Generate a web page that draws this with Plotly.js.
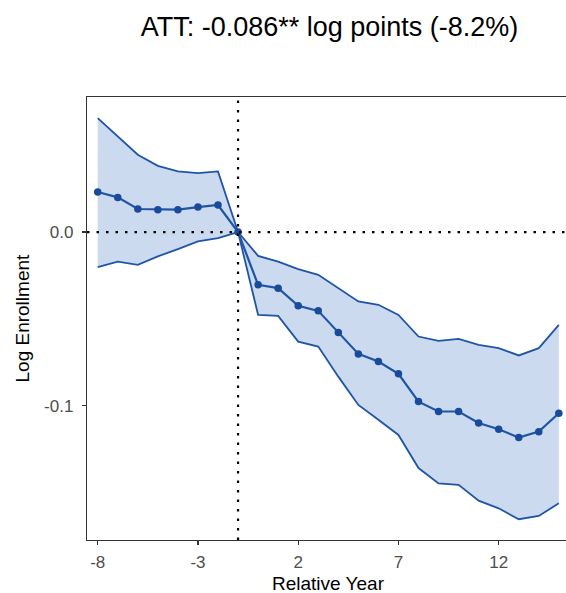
<!DOCTYPE html>
<html>
<head>
<meta charset="utf-8">
<script src="https://cdn.plot.ly/plotly-3.0.1.min.js"></script>
<style>
html, body { margin: 0; padding: 0; background: #ffffff; overflow: hidden; }
#chart { width: 566px; height: 593px; }
</style>
</head>
<body>
<div id="chart"></div>
<script>
// Relative years
const relYear = [-8, -7, -6, -5, -4, -3, -2, -1, 0, 1, 2, 3, 4, 5, 6, 7, 8, 9, 10, 11, 12, 13, 14, 15];
// Point estimates (log enrollment)
const estimate = [0.0231, 0.0200, 0.0133, 0.0129, 0.0129, 0.0144, 0.0156, 0.0,
  -0.0304, -0.0323, -0.0425, -0.0454, -0.0579, -0.0702, -0.0746, -0.0817,
  -0.0977, -0.1034, -0.1034, -0.1100, -0.1136, -0.1184, -0.1150, -0.1044];
// Upper confidence bound
const upperCI = [0.0657, 0.0550, 0.0446, 0.0382, 0.0350, 0.0340, 0.0350, 0.0,
  -0.0137, -0.0170, -0.0213, -0.0246, -0.0323, -0.0400, -0.0419, -0.0477,
  -0.0602, -0.0627, -0.0615, -0.0650, -0.0669, -0.0711, -0.0669, -0.0535];
// Lower confidence bound
const lowerCI = [-0.0202, -0.0170, -0.0189, -0.0140, -0.0098, -0.0054, -0.0035, 0.0,
  -0.0477, -0.0483, -0.0631, -0.0660, -0.0833, -0.0996, -0.1082, -0.1169,
  -0.1360, -0.1448, -0.1457, -0.1548, -0.1592, -0.1655, -0.1636, -0.1563];
// Tick labels
const xTicks = [-8, -3, 2, 7, 12];
const yTicks = [0.0, -0.1];
const yTickText = ["0.0", "-0.1"];
// Reference lines
const refYear = -1;
const refValue = 0;
const chartTitle = "ATT: -0.086** log points (-8.2%)";
const xTitle = "Relative Year";
const yTitle = "Log Enrollment";

const lineBlue = "#1f55a5";
const markerBlue = "#1a4b9b";
const fillBlue = "#cbdaee";
const font = "Liberation Sans, Arial, Helvetica, sans-serif";

const traces = [
  { x: relYear, y: lowerCI, type: "scatter", mode: "lines",
    line: { color: lineBlue, width: 1.8 }, hoverinfo: "skip", showlegend: false },
  { x: relYear, y: upperCI, type: "scatter", mode: "lines", fill: "tonexty",
    fillcolor: fillBlue, line: { color: lineBlue, width: 1.8 }, hoverinfo: "skip", showlegend: false },
  { x: relYear, y: estimate, type: "scatter", mode: "lines+markers",
    line: { color: lineBlue, width: 2.2 }, marker: { color: markerBlue, size: 7.5 }, showlegend: false }
];

const layout = {
  width: 566, height: 593,
  margin: { l: 87, r: 0, t: 97, b: 53 },
  paper_bgcolor: "#ffffff", plot_bgcolor: "#ffffff",
  font: { family: font, color: "#000000" },
  title: { text: chartTitle, font: { family: font, size: 27, color: "#000000" },
           xref: "container", x: 329.5 / 566, xanchor: "center",
           yref: "container", y: 1 - 27 / 593, yanchor: "middle" },
  xaxis: {
    range: [-8.534, 15.357], tickvals: xTicks, ticktext: xTicks.map(String),
    showgrid: false, zeroline: false, showline: true, mirror: true,
    linecolor: "#333333", linewidth: 1.2, ticks: "outside", ticklen: 4, tickwidth: 1.2, tickcolor: "#333333",
    tickfont: { family: font, size: 17, color: "#4d4d4d" }, ticklabelstandoff: 2
  },
  yaxis: {
    range: [-0.17745, 0.07785], tickvals: yTicks, ticktext: yTickText,
    showgrid: false, zeroline: false, showline: true,
    linecolor: "#333333", linewidth: 1.2, ticks: "outside", ticklen: 4, tickwidth: 1.2, tickcolor: "#333333",
    tickfont: { family: font, size: 17, color: "#4d4d4d" }, ticklabelstandoff: 5
  },
  annotations: [
    { text: xTitle, xref: "paper", yref: "paper", x: (328 - 87) / 479, y: 0,
      xanchor: "center", yanchor: "middle", yshift: -43, showarrow: false,
      font: { family: font, size: 19, color: "#000000" } },
    { text: yTitle, xref: "paper", yref: "paper", x: (22 - 87) / 479, y: 0.5,
      xanchor: "center", yanchor: "middle", textangle: -90, showarrow: false,
      font: { family: font, size: 19, color: "#000000" } }
  ],
  shapes: [
    { type: "line", xref: "x", yref: "paper", x0: refYear, x1: refYear, y0: 0, y1: 1,
      line: { color: "#000000", width: 2.2, dash: "2.5px,7px" }, layer: "above" },
    { type: "line", xref: "paper", yref: "y", x0: 0, x1: 1, y0: refValue, y1: refValue,
      line: { color: "#000000", width: 2.2, dash: "2.5px,7px" }, layer: "above" }
  ]
};

Plotly.newPlot("chart", traces, layout, { displayModeBar: false, staticPlot: true });
</script>
</body>
</html>
